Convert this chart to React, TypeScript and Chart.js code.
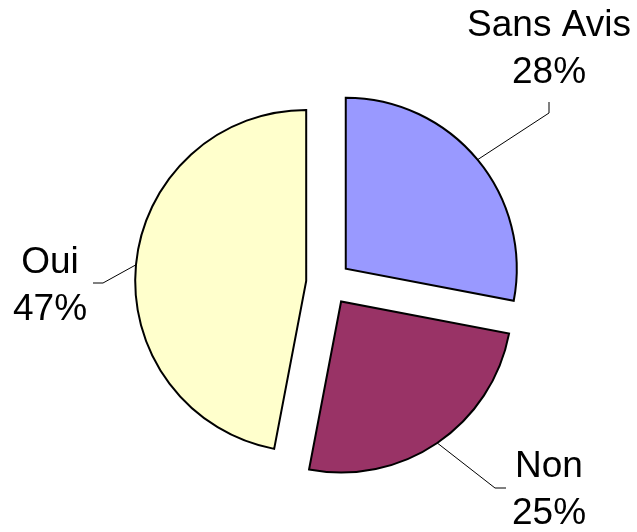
import React, { useEffect, useRef } from "react";
import { Chart, registerables } from "chart.js";

Chart.register(...registerables);

const categories = ["Sans Avis", "Non", "Oui"];
const values = [28, 25, 47];
const percentLabels = ["28%", "25%", "47%"];
const colors = ["#9999FF", "#993366", "#FFFFCC"];

const EXPLODE = 22.4;
const RADIUS = 171;
const FONT = '37px "Liberation Sans", Arial, sans-serif';
const LINE_GAP = 46.5;

const labelLayout = [
  { tx: 549, ty: 36, elbow: [549, 113], end: [549, 102] },
  { tx: 549, ty: 477, elbow: [495, 488], end: [506, 488] },
  { tx: 50, ty: 273, elbow: [103, 283], end: [93, 283] },
];

const explodePlugin = {
  id: "explodeSlices",
  afterUpdate(chart: any) {
    const meta = chart.getDatasetMeta(0);
    meta.data.forEach((el: any) => {
      const mid = (el.startAngle + el.endAngle) / 2;
      el.x = el.x + Math.cos(mid) * EXPLODE;
      el.y = el.y + Math.sin(mid) * EXPLODE;
    });
  },
};

const labelPlugin = {
  id: "pieLabels",
  afterDatasetsDraw(chart: any) {
    const ctx = chart.ctx;
    const meta = chart.getDatasetMeta(0);
    ctx.save();
    meta.data.forEach((el: any, i: number) => {
      const mid = (el.startAngle + el.endAngle) / 2;
      const ax = el.x + Math.cos(mid) * el.outerRadius;
      const ay = el.y + Math.sin(mid) * el.outerRadius;
      const L = labelLayout[i];
      ctx.strokeStyle = "#000";
      ctx.lineWidth = 1;
      ctx.beginPath();
      ctx.moveTo(ax, ay);
      ctx.lineTo(L.elbow[0], L.elbow[1]);
      ctx.lineTo(L.end[0], L.end[1]);
      ctx.stroke();
      ctx.fillStyle = "#000";
      ctx.font = FONT;
      ctx.textAlign = "center";
      ctx.textBaseline = "alphabetic";
      ctx.fillText(categories[i], L.tx, L.ty);
      ctx.fillText(percentLabels[i], L.tx, L.ty + LINE_GAP);
    });
    ctx.restore();
  },
};

export default function App() {
  const ref = useRef<HTMLCanvasElement | null>(null);
  useEffect(() => {
    if (!ref.current) return;
    const chart = new Chart(ref.current, {
      type: "pie",
      data: {
        labels: categories,
        datasets: [
          {
            data: values,
            backgroundColor: colors,
            borderColor: "#000000",
            borderWidth: 2,
            borderJoinStyle: "miter",
          } as any,
        ],
      },
      options: {
        responsive: false,
        animation: false,
        radius: RADIUS,
        layout: { padding: { left: 20, right: 0, top: 34, bottom: 0 } },
        plugins: {
          legend: { display: false },
          tooltip: { enabled: false },
        },
      } as any,
      plugins: [explodePlugin, labelPlugin],
    });
    return () => chart.destroy();
  }, []);
  return (
    <div style={{ position: "absolute", left: 0, top: 0, width: 637, height: 532, background: "#fff" }}>
      <canvas ref={ref} width={637} height={532} />
    </div>
  );
}
